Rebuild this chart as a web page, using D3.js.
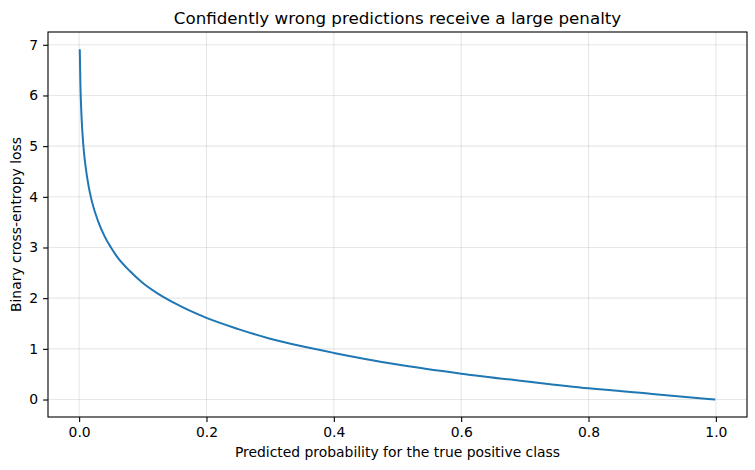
<!DOCTYPE html>
<html>
<head>
<meta charset="utf-8">
<script src="https://cdn.jsdelivr.net/npm/d3@7"></script>
<style>
  body { margin: 0; background: #fff; }
  text { font-family: "DejaVu Sans", sans-serif; fill: #000; }
</style>
</head>
<body>
<div id="main"></div>
<script>
var ctx = {
    w: 755,
    h: 470,
    left: 48,
    right: 747,
    top: 32,
    bottom: 417,
};

// values
var probs = [0.001, 0.002, 0.003, 0.005, 0.0075, 0.01, 0.015, 0.02, 0.03, 0.04,
    0.05, 0.06, 0.08, 0.1, 0.125, 0.15, 0.2, 0.25, 0.3, 0.35, 0.4, 0.5, 0.6,
    0.7, 0.8, 0.9, 0.999];
var losses = [6.91, 6.21, 5.81, 5.30, 4.89, 4.61, 4.20, 3.91, 3.51, 3.22,
    3.00, 2.81, 2.53, 2.30, 2.08, 1.90, 1.61, 1.39, 1.20, 1.05, 0.92, 0.69, 0.51,
    0.36, 0.22, 0.11, 0.00];
var xTicks = [0.0, 0.2, 0.4, 0.6, 0.8, 1.0];
var yTicks = [0, 1, 2, 3, 4, 5, 6, 7];

var createChart = function (svg) {
    var x = d3.scaleLinear().domain([-0.0489, 1.0489]).range([ctx.left, ctx.right]);
    var y = d3.scaleLinear().domain([-0.345, 7.2525]).range([ctx.bottom, ctx.top]);

    // grid
    svg.append("g")
        .selectAll("line")
        .data(xTicks)
        .enter()
        .append("line")
        .attr("x1", (d) => x(d)).attr("x2", (d) => x(d))
        .attr("y1", ctx.top).attr("y2", ctx.bottom)
        .attr("stroke", "#b0b0b0").attr("stroke-opacity", 0.3).attr("stroke-width", 1.1);
    svg.append("g")
        .selectAll("line")
        .data(yTicks)
        .enter()
        .append("line")
        .attr("y1", (d) => y(d)).attr("y2", (d) => y(d))
        .attr("x1", ctx.left).attr("x2", ctx.right)
        .attr("stroke", "#b0b0b0").attr("stroke-opacity", 0.3).attr("stroke-width", 1.1);

    // line
    var pts = probs.map((p, i) => [p, losses[i]]);
    svg.append("path")
        .datum(pts)
        .attr("fill", "none")
        .attr("stroke", "#1f77b4")
        .attr("stroke-width", 2)
        .attr("d", d3.line().x((d) => x(d[0])).y((d) => y(d[1])).curve(d3.curveMonotoneX));

    // axes
    var xAxis = svg.append("g")
        .attr("transform", `translate(0,${ctx.bottom})`)
        .call(d3.axisBottom(x).tickValues(xTicks).tickFormat(d3.format(".1f")).tickSizeOuter(0).tickSize(4.9).tickPadding(4.9));
    var yAxis = svg.append("g")
        .attr("transform", `translate(${ctx.left},0)`)
        .call(d3.axisLeft(y).tickValues(yTicks).tickFormat(d3.format("d")).tickSizeOuter(0).tickSize(4.9).tickPadding(4.9));
    [xAxis, yAxis].forEach(function (a) {
        a.select(".domain").remove();
        a.selectAll("line").attr("stroke", "#000").attr("stroke-width", 1.1);
        a.selectAll("text").style("font-size", "13.9px").style("font-family", "DejaVu Sans");
    });

    // frame
    svg.append("rect")
        .attr("x", ctx.left).attr("y", ctx.top)
        .attr("width", ctx.right - ctx.left).attr("height", ctx.bottom - ctx.top)
        .attr("fill", "none").attr("stroke", "#000").attr("stroke-width", 1.1);

    svg.append("text")
        .attr("x", (ctx.left + ctx.right) / 2).attr("y", 24)
        .attr("text-anchor", "middle").style("font-size", "16.7px")
        .text("Confidently wrong predictions receive a large penalty");
    svg.append("text")
        .attr("x", (ctx.left + ctx.right) / 2).attr("y", 457)
        .attr("text-anchor", "middle").style("font-size", "13.9px")
        .text("Predicted probability for the true positive class");
    svg.append("text")
        .attr("transform", `translate(21,${(ctx.top + ctx.bottom) / 2}) rotate(-90)`)
        .attr("text-anchor", "middle").style("font-size", "13.9px")
        .text("Binary cross-entropy loss");
};

var svgEl = d3.select("#main").append("svg")
    .attr("width", ctx.w)
    .attr("height", ctx.h);
createChart(svgEl);
</script>
</body>
</html>
